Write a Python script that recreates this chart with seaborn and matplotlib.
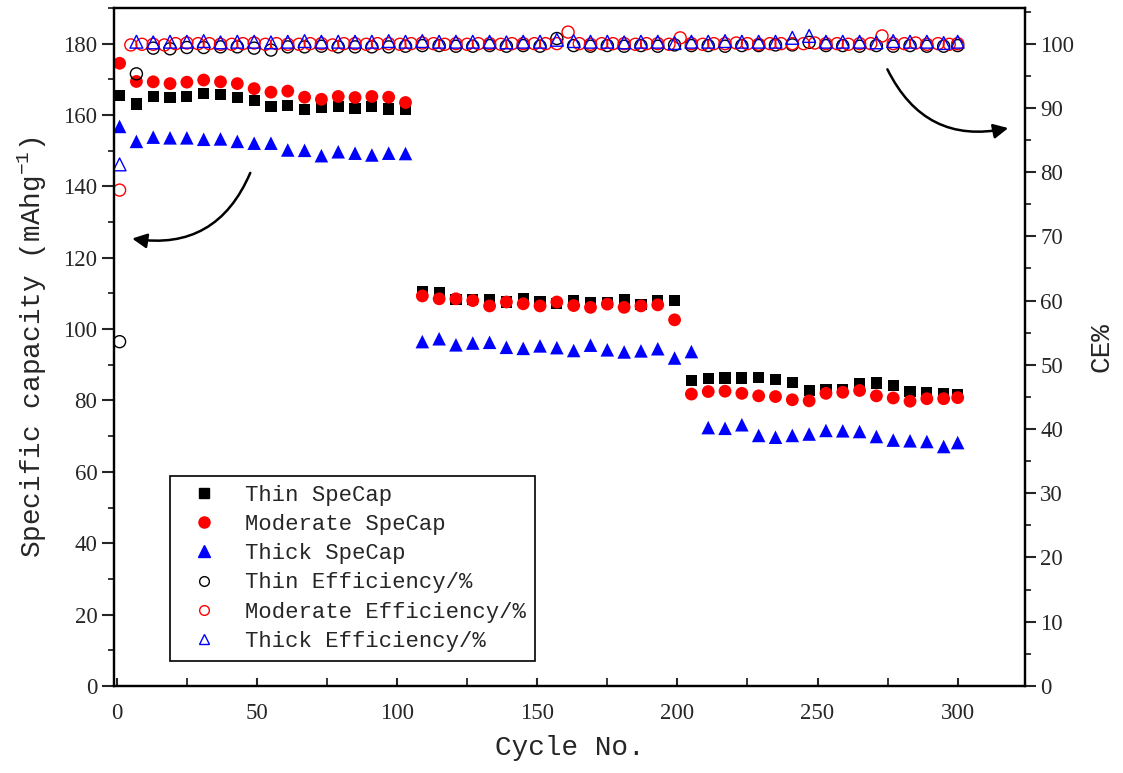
import numpy as np
import pandas as pd
import matplotlib
matplotlib.use("Agg")
import matplotlib.pyplot as plt
import seaborn as sns
from matplotlib.ticker import MultipleLocator
from matplotlib.lines import Line2D

# ---------------- data ----------------
thin_cycles = [1, 7, 13, 19, 25, 31, 37, 43, 49, 55, 61, 67, 73, 79, 85, 91, 97, 103,
               109, 115, 121, 127, 133, 139, 145, 151, 157, 163, 169, 175, 181, 187, 193, 199,
               205, 211, 217, 223, 229, 235, 241, 247, 253, 259, 265, 271, 277, 283, 289, 295, 300]
thin_cap = [165.4, 163.1, 165.2, 165.0, 165.3, 166.0, 165.7, 165.0, 164.1, 162.5, 162.6, 161.6,
            162.1, 162.4, 161.9, 162.5, 161.7, 161.5,
            110.6, 110.3, 108.4, 108.3, 108.4, 107.6, 108.7, 107.8, 107.1, 108.0, 107.4, 107.5,
            108.2, 106.9, 108.0, 108.0,
            85.5, 86.1, 86.3, 86.3, 86.4, 86.0, 85.1, 82.8, 83.2, 83.2, 84.7, 84.9, 84.3, 82.6,
            82.3, 81.9, 81.6]
mod_cap = [174.5, 169.4, 169.3, 168.8, 169.2, 169.8, 169.3, 168.8, 167.4, 166.4, 166.7, 165.0,
           164.4, 165.2, 164.9, 165.2, 165.0, 163.5,
           109.3, 108.5, 108.5, 108.0, 106.5, 107.6, 107.1, 106.5, 107.6, 106.6, 106.1, 107.0,
           106.1, 106.5, 106.8, 102.6,
           81.8, 82.5, 82.6, 82.0, 81.3, 81.1, 80.2, 79.9, 82.0, 82.3, 82.8, 81.3, 80.7, 79.8,
           80.5, 80.5, 80.8]
thick_cycles = [1, 7, 13, 19, 25, 31, 37, 43, 49, 55, 61, 67, 73, 79, 85, 91, 97, 103,
                109, 115, 121, 127, 133, 139, 145, 151, 157, 163, 169, 175, 181, 187, 193, 199, 205,
                211, 217, 223, 229, 235, 241, 247, 253, 259, 265, 271, 277, 283, 289, 295, 300]
thick_cap = [156.8, 152.6, 153.8, 153.6, 153.6, 153.2, 153.3, 152.6, 152.1, 152.1, 150.2, 150.1,
             148.6, 149.7, 149.3, 148.8, 149.3, 149.2,
             96.5, 97.3, 95.6, 96.1, 96.3, 94.9, 94.6, 95.3, 94.8, 94.0, 95.5, 94.2, 93.6, 93.9,
             94.5, 91.9, 93.7,
             72.4, 72.2, 73.2, 70.2, 69.7, 70.2, 70.6, 71.6, 71.5, 71.3, 69.9, 68.9, 68.7, 68.5,
             67.1, 68.2]

ce_cycles = [1, 7, 13, 19, 25, 31, 37, 43, 49, 55, 61, 67, 73, 79, 85, 91, 97, 103,
             109, 115, 121, 127, 133, 139, 145, 151, 157, 163, 169, 175, 181, 187, 193, 199,
             205, 211, 217, 223, 229, 235, 241, 247, 253, 259, 265, 271, 277, 283, 289, 295, 300]
thin_ce = [53.6, 95.3, 99.3, 99.2, 99.4, 99.4, 99.5, 99.5, 99.3, 99.0, 99.5, 99.5, 99.6, 99.5,
           99.5, 99.5, 99.5, 99.6,
           99.7, 99.7, 99.6, 99.6, 99.7, 99.6, 99.7, 99.6, 100.8, 99.7, 99.6, 99.7, 99.6, 99.7,
           99.6, 99.8,
           99.7, 99.7, 99.6, 99.7, 99.7, 99.8, 99.8, 100.2, 99.7, 99.7, 99.6, 99.7, 99.6, 99.7,
           99.6, 99.6, 99.7]
thick_ce = [81.2, 100.3, 100.2, 100.3, 100.3, 100.4, 100.2, 100.3, 100.3, 100.2, 100.3, 100.4,
            100.3, 100.3, 100.3, 100.3, 100.4, 100.3,
            100.4, 100.3, 100.3, 100.3, 100.3, 100.2, 100.3, 100.3, 100.6, 100.4, 100.3, 100.3,
            100.2, 100.3, 100.3, 100.1,
            100.3, 100.3, 100.4, 100.3, 100.3, 100.3, 100.9, 101.2, 100.3, 100.3, 100.3, 100.2,
            100.4, 100.3, 100.3, 100.1, 100.3]
mod_ce_cycles = list(range(1, 298, 4)) + [300]
mod_ce = [77.2, 99.8, 99.9, 99.9, 99.8, 100.0, 100.1, 100.0, 100.0, 99.9, 99.9, 100.0, 100.1,
          99.9, 100.0, 99.9, 99.9, 100.0, 100.0, 99.8, 100.0, 100.0, 99.9, 100.0, 100.0, 99.9,
          100.0, 100.1, 100.0, 99.9, 100.0, 99.9, 100.0, 100.0, 99.9, 100.0, 100.0, 100.0, 100.0,
          100.0, 101.8, 100.0, 99.9, 100.0, 100.0, 100.0, 99.9, 100.0, 100.0, 99.9, 100.9, 100.0,
          99.9, 100.0, 100.0, 100.1, 100.0, 99.9, 100.0, 100.0, 100.0, 100.0, 100.1, 100.0,
          100.0, 99.9, 100.0, 100.0, 101.2, 100.0, 100.0, 100.1, 99.9, 100.0, 99.9, 100.0]

legend_labels = ["Thin SpeCap", "Moderate SpeCap", "Thick SpeCap",
                 "Thin Efficiency/%", "Moderate Efficiency/%", "Thick Efficiency/%"]

# ---------------- style ----------------
sns.set_theme(style="ticks")
FONT = "Liberation Mono"
plt.rcParams["font.family"] = [FONT, "DejaVu Sans"]
plt.rcParams["mathtext.fontset"] = "custom"
plt.rcParams["mathtext.rm"] = FONT
plt.rcParams["axes.linewidth"] = 1.6

fig = plt.figure(figsize=(11.23, 7.73), dpi=100)
ax = fig.add_axes([0.1015, 0.1126, 0.8112, 0.8771])
ax2 = ax.twinx()

df_thin = pd.DataFrame({"cycle": thin_cycles, "cap": thin_cap})
df_mod = pd.DataFrame({"cycle": thin_cycles, "cap": mod_cap})
df_thick = pd.DataFrame({"cycle": thick_cycles, "cap": thick_cap})

sns.scatterplot(data=df_thin, x="cycle", y="cap", ax=ax, marker="s", s=64,
                color="black", edgecolor="none", linewidth=0)
sns.scatterplot(data=df_mod, x="cycle", y="cap", ax=ax, marker="o", s=85,
                color="red", edgecolor="none", linewidth=0)
sns.scatterplot(data=df_thick, x="cycle", y="cap", ax=ax, marker="^", s=95,
                color="blue", edgecolor="none", linewidth=0)

df_thin_ce = pd.DataFrame({"cycle": ce_cycles, "ce": thin_ce})
df_mod_ce = pd.DataFrame({"cycle": mod_ce_cycles, "ce": mod_ce})
df_thick_ce = pd.DataFrame({"cycle": ce_cycles, "ce": thick_ce})

sns.scatterplot(data=df_thin_ce, x="cycle", y="ce", ax=ax2, marker="o", s=75,
                facecolor="none", edgecolor="black", linewidth=1.0)
sns.scatterplot(data=df_mod_ce, x="cycle", y="ce", ax=ax2, marker="o", s=75,
                facecolor="none", edgecolor="red", linewidth=1.0)
sns.scatterplot(data=df_thick_ce, x="cycle", y="ce", ax=ax2, marker="^", s=85,
                facecolor="none", edgecolor="blue", linewidth=1.0)

ax.set_xlim(-1, 324)
ax.set_ylim(0, 190)
ax2.set_ylim(0, 190 / 1.8)

ax.xaxis.set_major_locator(MultipleLocator(50))
ax.xaxis.set_minor_locator(MultipleLocator(25))
ax.yaxis.set_major_locator(MultipleLocator(20))
ax.yaxis.set_minor_locator(MultipleLocator(10))
ax2.yaxis.set_major_locator(MultipleLocator(10))
ax2.yaxis.set_minor_locator(MultipleLocator(5))

ax.tick_params(axis="y", which="major", direction="out", length=9, width=1.5, labelsize=16.5, pad=3)
ax.tick_params(axis="y", which="minor", direction="out", length=4, width=1.3)
ax.tick_params(axis="x", which="major", direction="in", length=6, width=1.5, labelsize=16.5, pad=12)
ax.tick_params(axis="x", which="minor", direction="in", length=6, width=1.3)
ax2.tick_params(axis="y", which="major", direction="out", length=8, width=1.5, labelsize=16.5, pad=3)
ax2.tick_params(axis="y", which="minor", direction="out", length=4, width=1.3)
for lab in ax.get_xticklabels() + ax.get_yticklabels() + ax2.get_yticklabels():
    lab.set_fontfamily("Liberation Serif")

ax.set_xlabel("Cycle No.", fontsize=20, labelpad=8)
ax.set_ylabel(r"Specific capacity (mAhg$^{\mathregular{-1}}$)", fontsize=20, labelpad=10)
ax2.set_ylabel("CE%", fontsize=20, labelpad=10)

# arrows
ax.annotate("", xy=(4.5, 125.5), xytext=(48, 144.5),
            arrowprops=dict(arrowstyle="-|>", color="black", lw=1.8, mutation_scale=22,
                            connectionstyle="arc3,rad=-0.4"))
ax.annotate("", xy=(319, 156.5), xytext=(274.5, 173.5),
            arrowprops=dict(arrowstyle="-|>", color="black", lw=1.8, mutation_scale=22,
                            connectionstyle="arc3,rad=0.4"))

# legend
handles = [
    Line2D([], [], ls="none", marker="s", ms=7, mfc="black", mec="black"),
    Line2D([], [], ls="none", marker="o", ms=8, mfc="red", mec="red"),
    Line2D([], [], ls="none", marker="^", ms=8, mfc="blue", mec="blue"),
    Line2D([], [], ls="none", marker="o", ms=7, mfc="none", mec="black", mew=1.0),
    Line2D([], [], ls="none", marker="o", ms=7, mfc="none", mec="red", mew=1.0),
    Line2D([], [], ls="none", marker="^", ms=7.5, mfc="none", mec="blue", mew=1.0),
]
leg = ax2.legend(handles, legend_labels, loc="upper left", bbox_to_anchor=(0.062, 0.31),
                 borderaxespad=0, frameon=True, fancybox=False, framealpha=1,
                 edgecolor="black", prop={"family": FONT, "size": 16},
                 handletextpad=0.75, labelspacing=0.37, borderpad=0.4, handlelength=2.2)
leg.get_frame().set_linewidth(1.2)

for a in (ax, ax2):
    for sp in a.spines.values():
        sp.set_linewidth(1.6)
        sp.set_color("black")

fig.savefig("out.png", dpi=100)
